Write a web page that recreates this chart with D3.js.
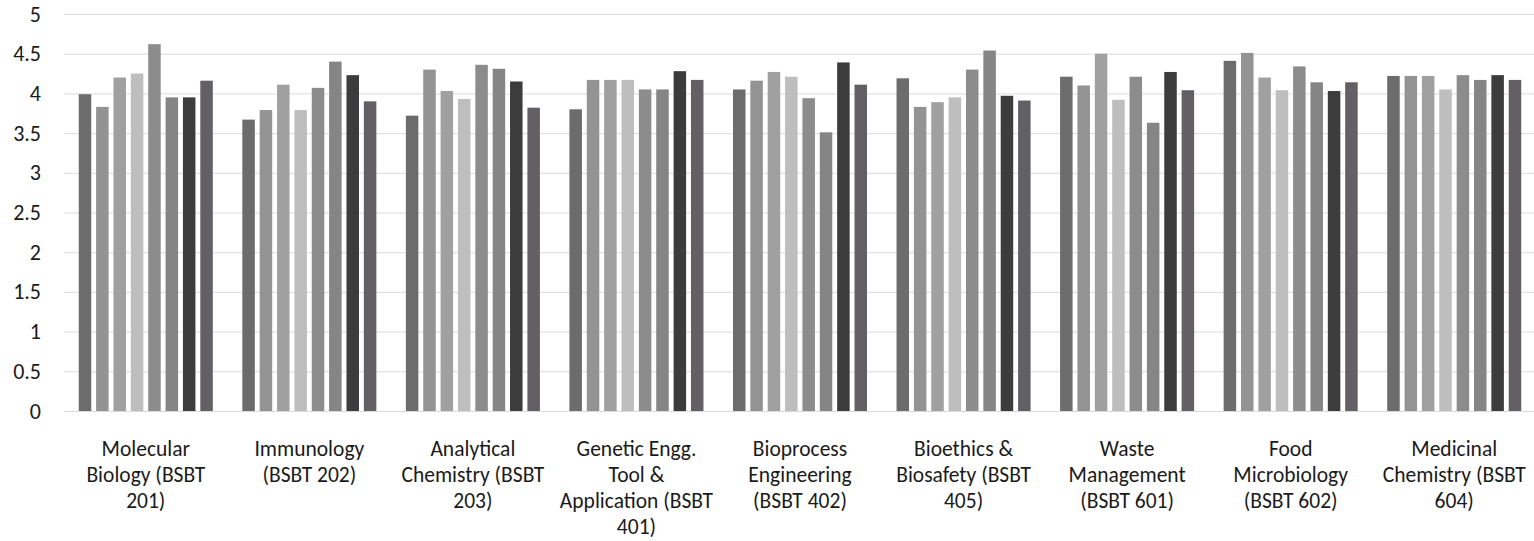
<!DOCTYPE html>
<html>
<head>
<meta charset="utf-8">
<script src="https://cdn.jsdelivr.net/npm/d3@7"></script>
<style>
  html, body { margin: 0; padding: 0; background: #fff; }
  svg { display: block; }
  text { font-family: Carlito, Calibri, Lato, "Noto Sans", sans-serif; fill: #1a1a1a; }
</style>
</head>
<body>
<svg id="chart" width="1534" height="541"></svg>
<script>
// ---- data ----
const categories = [
  "Molecular Biology (BSBT 201)",
  "Immunology (BSBT 202)",
  "Analytical Chemistry (BSBT 203)",
  "Genetic Engg. Tool & Application (BSBT 401)",
  "Bioprocess Engineering (BSBT 402)",
  "Bioethics & Biosafety (BSBT 405)",
  "Waste Management (BSBT 601)",
  "Food Microbiology (BSBT 602)",
  "Medicinal Chemistry (BSBT 604)"
];
const categoryLines = [
  ["Molecular", "Biology (BSBT", "201)"],
  ["Immunology", "(BSBT 202)"],
  ["Analytical", "Chemistry (BSBT", "203)"],
  ["Genetic Engg.", "Tool &", "Application (BSBT", "401)"],
  ["Bioprocess", "Engineering", "(BSBT 402)"],
  ["Bioethics &", "Biosafety (BSBT", "405)"],
  ["Waste", "Management", "(BSBT 601)"],
  ["Food", "Microbiology", "(BSBT 602)"],
  ["Medicinal", "Chemistry (BSBT", "604)"]
];
const series = ["S1", "S2", "S3", "S4", "S5", "S6", "S7", "S8"];
const s1 = [3.99, 3.67, 3.72, 3.80, 4.05, 4.19, 4.21, 4.41, 4.22];
const s2 = [3.83, 3.79, 4.30, 4.17, 4.16, 3.83, 4.10, 4.51, 4.22];
const s3 = [4.20, 4.11, 4.03, 4.17, 4.27, 3.89, 4.50, 4.20, 4.22];
const s4 = [4.25, 3.79, 3.93, 4.17, 4.21, 3.95, 3.92, 4.04, 4.05];
const s5 = [4.62, 4.07, 4.36, 4.05, 3.94, 4.30, 4.21, 4.34, 4.23];
const s6 = [3.95, 4.40, 4.31, 4.05, 3.51, 4.54, 3.63, 4.14, 4.17];
const s7 = [3.95, 4.23, 4.15, 4.28, 4.39, 3.97, 4.27, 4.03, 4.23];
const s8 = [4.16, 3.90, 3.82, 4.17, 4.11, 3.91, 4.04, 4.14, 4.17];
const seriesValues = [s1, s2, s3, s4, s5, s6, s7, s8];
const yTicks = [0, 0.5, 1, 1.5, 2, 2.5, 3, 3.5, 4, 4.5, 5];
const colors = ["#6c6c6c", "#939393", "#a0a0a0", "#bebebe", "#8c8c8c", "#858585", "#3c3c3c", "#626064"];

// ---- chart ----
const svg = d3.select("#chart");
const x0 = d3.scaleBand().domain(categories).range([64, 1536]).paddingInner(0).paddingOuter(0);
const x1 = d3.scaleBand().domain(series).range([0, x0.bandwidth()]).paddingInner(0.28).paddingOuter(0.85);
const y = d3.scaleLinear().domain([0, 5]).range([411, 14]);
const color = d3.scaleOrdinal().domain(series).range(colors);

// gridlines
const yAxis = d3.axisLeft(y).tickValues(yTicks).tickSize(-(1534 - 64)).tickFormat(d3.format("~g"));
const gy = svg.append("g").attr("transform", "translate(64,0)").call(yAxis);
gy.select(".domain").remove();
gy.selectAll(".tick line").attr("stroke", "#dcdcdc").attr("stroke-width", 1);
gy.selectAll(".tick text").style("font-size", "22px").attr("fill", "#1a1a1a").attr("x", -23);

// bars
const rows = categories.map((c, i) => ({ cat: c, vals: series.map((s, j) => ({ s, v: seriesValues[j][i] })) }));
const groups = svg.append("g").selectAll("g").data(rows).join("g")
  .attr("transform", d => `translate(${x0(d.cat)},0)`);
groups.selectAll("rect").data(d => d.vals).join("rect")
  .attr("x", d => x1(d.s))
  .attr("width", x1.bandwidth())
  .attr("y", d => y(d.v))
  .attr("height", d => y(0) - y(d.v))
  .attr("fill", d => color(d.s));

// x axis labels
const xAxis = d3.axisBottom(x0).tickSize(0).tickFormat("");
const gx = svg.append("g").attr("transform", `translate(0,${y(0)})`).call(xAxis);
gx.select(".domain").attr("stroke", "#d9d9d9");
gx.selectAll(".tick").each(function(d, i) {
  const t = d3.select(this).append("text")
    .attr("text-anchor", "middle")
    .style("font-size", "21.5px")
    .attr("fill", "#1a1a1a");
  categoryLines[i].forEach((ln, k) => {
    t.append("tspan").attr("x", 0).attr("y", 45 + k * 26).text(ln);
  });
});
</script>
</body>
</html>
